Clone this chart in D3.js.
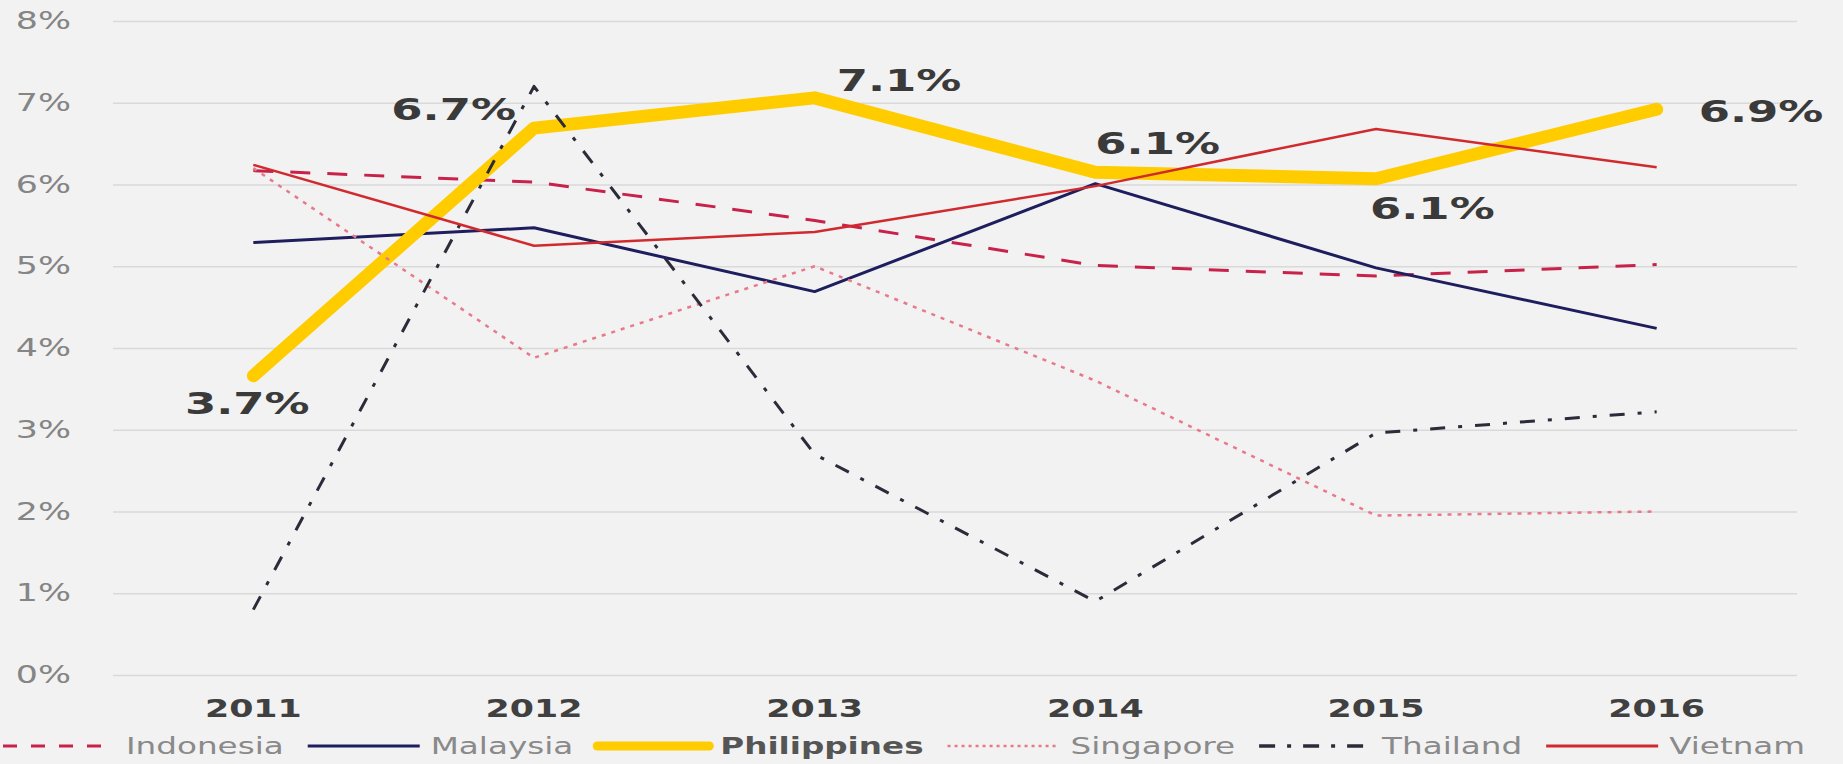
<!DOCTYPE html>
<html>
<head>
<meta charset="utf-8">
<script src="https://cdn.jsdelivr.net/npm/d3@7/dist/d3.min.js"></script>
<style>
  html, body { margin: 0; padding: 0; background: #F2F2F2; }
  svg { display: block; }
</style>
</head>
<body>
<svg id="chart" width="1843" height="764"></svg>
<script>
// ---------- data ----------
const years = ["2011", "2012", "2013", "2014", "2015", "2016"];
const yTicks = [0, 1, 2, 3, 4, 5, 6, 7, 8];

const indonesia   = [6.17, 6.03, 5.56, 5.01, 4.88, 5.02];
const malaysia    = [5.29, 5.47, 4.69, 6.01, 4.98, 4.24];
const philippines = [3.66, 6.69, 7.06, 6.15, 6.07, 6.92];
const singapore   = [6.20, 3.88, 5.00, 3.60, 1.95, 2.00];
const thailand    = [0.80, 7.20, 2.70, 0.90, 2.96, 3.22];
const vietnam     = [6.24, 5.25, 5.42, 5.98, 6.68, 6.21];

const seriesNames = ["Indonesia", "Malaysia", "Philippines", "Singapore", "Thailand", "Vietnam"];
const philippinesLabels = ["3.7%", "6.7%", "7.1%", "6.1%", "6.1%", "6.9%"];

// ---------- styles ----------
const SX = 1.45; // horizontal stretch of the reference's text
const styles = {
  Indonesia:   { color: "#C8224B", width: 3,   dash: "20,17", legendDash: "14,14", legendWidth: 3 },
  Malaysia:    { color: "#1E1E5E", width: 3,   dash: null,    legendDash: null, legendWidth: 3 },
  Philippines: { color: "#FFCC00", width: 13,  dash: null,    legendDash: null, legendWidth: 9 },
  Singapore:   { color: "#E8798A", width: 2.5, dash: "4,6",   legendDash: "3,4", legendWidth: 2.5 },
  Thailand:    { color: "#2B2B3A", width: 3,   dash: "15,13,4,13", legendDash: "16,12,4,12", legendWidth: 3.5 },
  Vietnam:     { color: "#D02A2E", width: 2.5, dash: null,    legendDash: null, legendWidth: 3 }
};
const seriesValues = { Indonesia: indonesia, Malaysia: malaysia, Philippines: philippines,
                       Singapore: singapore, Thailand: thailand, Vietnam: vietnam };

// label placement relative to the point: [dx, dy(center), anchor]
const labelPlacement = [
  [-6, 27, "middle"],
  [-18, -19, "end"],
  [22, -18, "start"],
  [0, -29, "start"],
  [-6, 29, "start"],
  [42, 2, "start"]
];

const svg = d3.select("#chart");
svg.append("rect").attr("width", 1843).attr("height", 764).attr("fill", "#F2F2F2");

const plotLeft = 113, plotRight = 1797, plotTop = 21, plotBottom = 675;

const x = d3.scaleBand().domain(years).range([plotLeft, plotRight]).padding(0);
const cx = d => x(d) + x.bandwidth() / 2;
const y = d3.scaleLinear().domain([0, 8]).range([plotBottom, plotTop]);

// ---------- y axis + gridlines ----------
const yAxis = d3.axisLeft(y)
  .tickValues(yTicks)
  .tickFormat(d => d + "%")
  .tickSize(-(plotRight - plotLeft))
  .tickPadding(42 / SX);

const gy = svg.append("g").attr("transform", `translate(${plotLeft},0)`).call(yAxis);
gy.select(".domain").remove();
gy.selectAll(".tick line").attr("stroke", "#D9D9D9").attr("stroke-width", 1.5);
gy.selectAll(".tick text")
  .attr("fill", "#858585")
  .attr("font-family", "DejaVu Sans")
  .attr("font-size", 24)
  .attr("transform", `scale(${SX},1)`);

// ---------- x axis ----------
const xAxis = d3.axisBottom(x).tickSize(0).tickPadding(0);
const gx = svg.append("g").attr("transform", `translate(0,708)`).call(xAxis);
gx.select(".domain").remove();
gx.selectAll(".tick text")
  .attr("y", 0)
  .attr("dy", "0.36em")
  .attr("fill", "#404040")
  .attr("font-family", "DejaVu Sans")
  .attr("font-weight", "bold")
  .attr("font-size", 24)
  .attr("transform", `scale(${SX},1)`);

// ---------- lines ----------
const line = d3.line()
  .x((d, i) => cx(years[i]))
  .y(d => y(d));

seriesNames.forEach(name => {
  const st = styles[name];
  const p = svg.append("path")
    .datum(seriesValues[name])
    .attr("d", line)
    .attr("fill", "none")
    .attr("stroke", st.color)
    .attr("stroke-width", st.width)
    .attr("stroke-linejoin", "round")
    .attr("stroke-linecap", name === "Philippines" ? "round" : "butt");
  if (st.dash) p.attr("stroke-dasharray", st.dash);
});

// ---------- Philippines labels ----------
svg.append("g").selectAll("text")
  .data(philippines)
  .join("text")
  .attr("transform", (d, i) => `translate(${cx(years[i]) + labelPlacement[i][0]},${y(d) + labelPlacement[i][1]}) scale(${SX},1)`)
  .attr("text-anchor", (d, i) => labelPlacement[i][2])
  .attr("dy", "0.36em")
  .attr("fill", "#3A3A3A")
  .attr("font-family", "DejaVu Sans")
  .attr("font-weight", "bold")
  .attr("font-size", 31)
  .text((d, i) => philippinesLabels[i]);

// ---------- legend ----------
const legend = svg.append("g").attr("transform", "translate(0,746)");
let lx = 3;
const lineLen = 112, gapLine = 11, gapItem = 24;
seriesNames.forEach(name => {
  const st = styles[name];
  const l = legend.append("line")
    .attr("x1", lx).attr("x2", lx + lineLen)
    .attr("y1", 0).attr("y2", 0)
    .attr("stroke", st.color)
    .attr("stroke-width", st.legendWidth)
    .attr("stroke-linecap", name === "Philippines" ? "round" : "butt");
  if (st.legendDash) l.attr("stroke-dasharray", st.legendDash);
  lx += lineLen + gapLine;
  const t = legend.append("text")
    .attr("transform", `translate(${lx},0) scale(${SX},1)`)
    .attr("dy", "0.36em")
    .attr("fill", name === "Philippines" ? "#555555" : "#8A8A8A")
    .attr("font-family", "DejaVu Sans")
    .attr("font-weight", name === "Philippines" ? "bold" : "normal")
    .attr("font-size", 22.5)
    .text(name);
  lx += t.node().getComputedTextLength() * SX + gapItem;
});
</script>
</body>
</html>
